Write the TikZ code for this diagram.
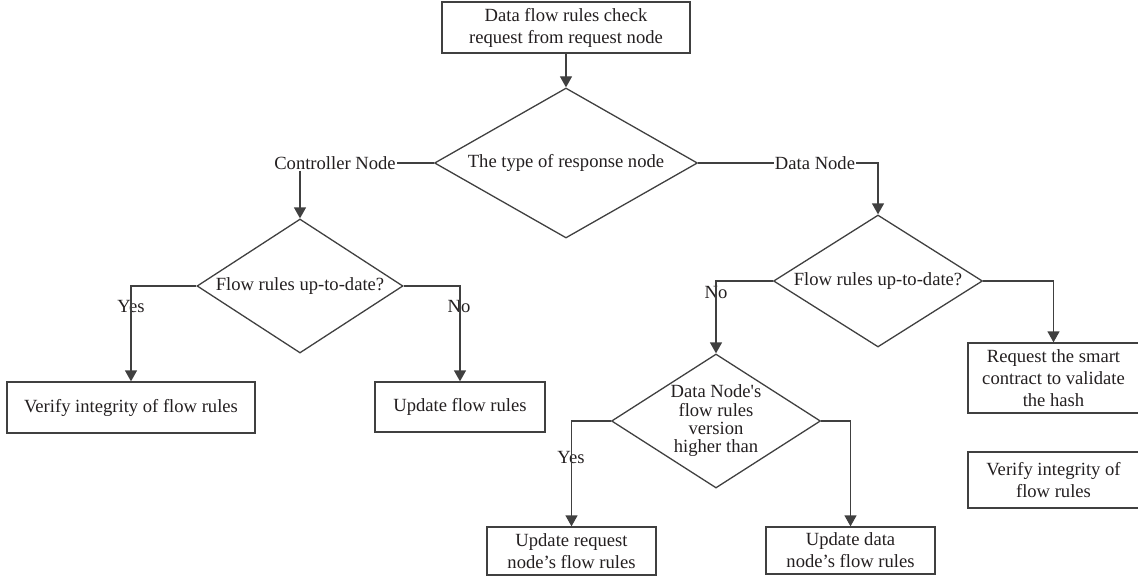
\documentclass[tikz,border=0pt]{standalone}
\usepackage{fontspec}
\setmainfont{Liberation Serif}
\usetikzlibrary{shapes.geometric,arrows.meta}
\definecolor{ln}{HTML}{404040}
\definecolor{tx}{HTML}{231F20}
\begin{document}
\begin{tikzpicture}[x=1pt,y=-1pt,
  every node/.style={text=tx,font=\fontsize{18.6}{22}\selectfont},
  box/.style={draw=ln,line width=1.3pt,rectangle,inner sep=0pt,align=center},
  dia/.style={draw=ln,line width=1.3pt,diamond,inner sep=0pt},
  lbl/.style={inner sep=1pt},
  conn/.style={draw=ln,line width=1.3pt},
  arr/.style={conn,-{Triangle[width=12pt,length=11pt]}}]
\useasboundingbox (0,0) rectangle (1138,578);

% boxes
\node[box,minimum width=248,minimum height=51] (top) at (566,27.5) {Data flow rules check\\request from request node};
\node[box,minimum width=248,minimum height=51] (ver1) at (131,407.5) {Verify integrity of flow rules};
\node[box,minimum width=170,minimum height=50] (upd) at (460,407) {Update flow rules};
\node[box,minimum width=171,minimum height=70] (req) at (1053.5,378) {Request the smart\\contract to validate\\the hash};
\node[box,minimum width=171,minimum height=56] (ver2) at (1053.5,480) {Verify integrity of\\flow rules};
\node[box,minimum width=169,minimum height=48] (ureq) at (571.5,551) {Update request\\node’s flow rules};
\node[box,minimum width=169,minimum height=47] (udata) at (850.5,550.5) {Update data\\node’s flow rules};

% diamonds
\node[dia,minimum width=263,minimum height=150,label={center:The type of response node}] (d1) at (566,163) {};
\node[dia,minimum width=206,minimum height=134,label={center:Flow rules up-to-date?}] (d2) at (300,286) {};
\node[dia,minimum width=209,minimum height=132,label={center:Flow rules up-to-date?}] (d3) at (878,281) {};
\node[dia,minimum width=209,minimum height=134,label={[align=center,font=\fontsize{18.6}{18.3}\selectfont]center:{Data Node\textquotesingle s\\flow rules\\version\\higher than}}] (d4) at (716,421) {};

% branch labels
\node[lbl] (cn) at (335,163) {Controller Node};
\node[lbl] (dn) at (815,163) {Data Node};
\node[lbl] (y1) at (131,306) {Yes};
\node[lbl] (n1) at (459,306) {No};
\node[lbl] (n2) at (716,292) {No};
\node[lbl] (y2) at (571,457) {Yes};

% connectors
\draw[arr] (top.south) -- (d1.north);
\draw[conn] (d1.west) -- (cn.east);
\draw[arr] (cn.south -| d2.north) -- (d2.north);
\draw[conn] (d1.east) -- (dn.west);
\draw[arr] (dn.east) -| (d3.north);
\draw[arr] (d2.west) -| (ver1.north);
\draw[arr] (d2.east) -| (upd.north);
\draw[arr] (d3.west) -| (d4.north);
\draw[arr] (d3.east) -| (req.north);
\draw[arr] (d4.west) -| (ureq.north);
\draw[arr] (d4.east) -| (udata.north);
\end{tikzpicture}
\end{document}
